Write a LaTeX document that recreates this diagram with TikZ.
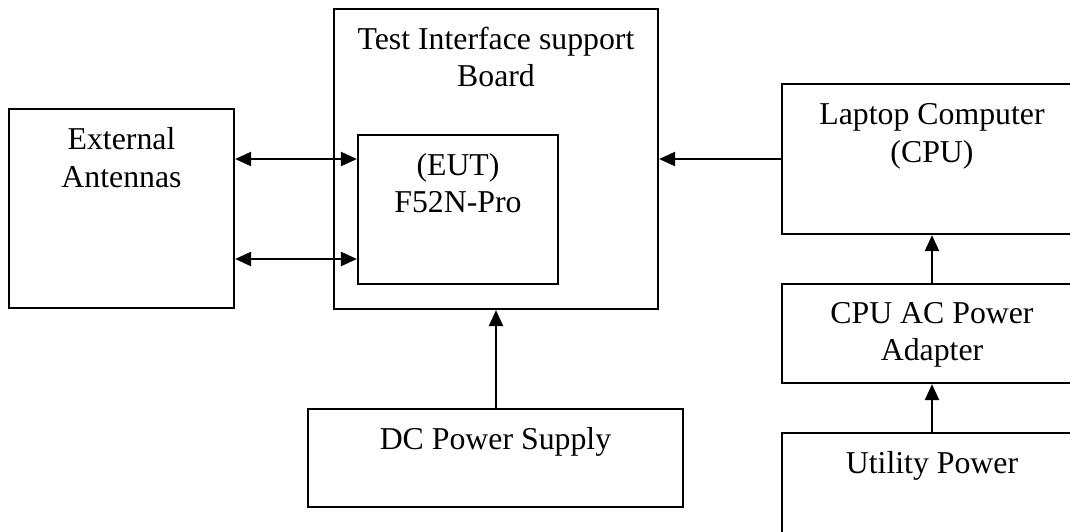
\documentclass[tikz,border=0pt]{standalone}
\usepackage{fontspec}
\setmainfont{Liberation Serif}
\usetikzlibrary{arrows.meta}
\begin{document}
\begin{tikzpicture}[x=1pt,y=-1pt,
  box/.style={draw,line width=2.2pt,rectangle,inner sep=0pt},
  lbl/.style={anchor=base,inner sep=0pt,font=\fontsize{31.8}{37}\selectfont},
  conn/.style={line width=2.2pt,-{Triangle[length=16pt,width=14pt]}},
  bconn/.style={line width=2.2pt,{Triangle[length=16pt,width=14pt]}-{Triangle[length=16pt,width=14pt]}}]
\useasboundingbox (0,0) rectangle (1070,531);
% boxes
\node[box,minimum width=225pt,minimum height=199pt] (ant) at (121.5,208.5) {};
\node[box,minimum width=324pt,minimum height=300pt] (board) at (496,159) {};
\node[box,minimum width=200pt,minimum height=149pt] (eut) at (458,209.5) {};
\node[box,minimum width=300pt,minimum height=150pt] (laptop) at (932,159) {};
\node[box,minimum width=300pt,minimum height=99pt] (adapter) at (932,333.5) {};
\node[box,minimum width=300pt,minimum height=107pt] (utility) at (932,486.5) {};
\node[box,minimum width=375pt,minimum height=98pt] (dc) at (495.5,458) {};
% labels
\node[lbl] (antA) at (121.5,149) {External};
\node[lbl] (antB) at (121.5,187) {Antennas};
\node[lbl] (boardA) at (496,49) {Test Interface support};
\node[lbl] (boardB) at (496,86) {Board};
\node[lbl] (eutA) at (458,175) {(EUT)};
\node[lbl] (eutB) at (458,212) {F52N-Pro};
\node[lbl] (lapA) at (932,124) {Laptop Computer};
\node[lbl] (lapB) at (932,162) {(CPU)};
\node[lbl] (adA) at (932,323) {CPU AC Power};
\node[lbl] (adB) at (932,360) {Adapter};
\node[lbl] (utA) at (932,473) {Utility Power};
\node[lbl] (dcA) at (495.5,449) {DC Power Supply};
% connectors
\coordinate (r1) at (0,159);
\coordinate (r2) at (0,259);
\draw[bconn] (ant.east |- r1) -- (eut.west |- r1);
\draw[bconn] (ant.east |- r2) -- (eut.west |- r2);
\draw[conn] (laptop.west) -- (laptop.west -| board.east);
\draw[conn] (dc.north -| board.south) -- (board.south);
\draw[conn] (adapter.north) -- (laptop.south);
\draw[conn] (utility.north) -- (adapter.south);
\end{tikzpicture}
\end{document}
